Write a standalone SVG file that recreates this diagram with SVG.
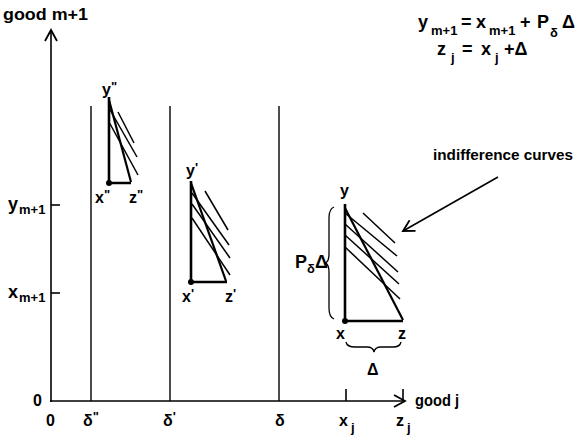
<svg xmlns="http://www.w3.org/2000/svg" width="576" height="435" viewBox="0 0 576 435">
<defs>
<style>
text{font-family:"Liberation Sans",Arial,sans-serif;font-weight:bold;fill:#000;font-size:16px}
.sub{font-size:13px}
.big{font-size:18px}
.ax{stroke:#000;stroke-width:1.6;fill:none}
.vl{stroke:#000;stroke-width:1.4;fill:none}
.tri{stroke:#000;stroke-width:2.6;fill:none;stroke-linejoin:miter}
.hyp{stroke:#000;stroke-width:2.2;fill:none}
.ic{stroke:#000;stroke-width:1.5;fill:none}
.br{stroke:#000;stroke-width:1.3;fill:none}
</style>
<marker id="ah" markerWidth="14" markerHeight="14" refX="12" refY="7" orient="auto" markerUnits="userSpaceOnUse">
<path d="M1,1 L12,7 L1,13" fill="none" stroke="#000" stroke-width="1.8"/>
</marker>
</defs>

<g id="connectors">
<line id="y-axis" class="ax" x1="51" y1="402" x2="51" y2="30" marker-end="url(#ah)"/>
<line id="x-axis" class="ax" x1="50" y1="401" x2="405" y2="401" marker-end="url(#ah)"/>
<line class="vl" x1="91" y1="106" x2="91" y2="401"/>
<line class="vl" x1="170" y1="106" x2="170" y2="401"/>
<line class="vl" x1="279" y1="106" x2="279" y2="401"/>
<line class="ax" x1="51" y1="205" x2="60" y2="205"/>
<line class="ax" x1="51" y1="293" x2="60" y2="293"/>
<line class="ax" x1="346" y1="389" x2="346" y2="401"/>
<line class="ax" x1="403" y1="389" x2="403" y2="401"/>
<line id="ic-arrow" class="ax" x1="498" y1="177" x2="403" y2="231" marker-end="url(#ah)"/>
</g>

<g id="axis-labels">
<text x="3" y="20" textLength="85" lengthAdjust="spacingAndGlyphs">good  m+1</text>
<text x="415" y="406" textLength="44" lengthAdjust="spacingAndGlyphs">good  j</text>
<text x="33" y="406">0</text>
<text x="46" y="426">0</text>
<text x="83" y="426">δ<tspan class="sub" dy="-5">"</tspan></text>
<text x="163" y="426">δ<tspan class="sub" dy="-5">'</tspan></text>
<text x="275" y="426">δ</text>
<text x="339" y="426">x<tspan class="sub" dx="3" dy="6">j</tspan></text>
<text x="396" y="426">z<tspan class="sub" dx="3" dy="6">j</tspan></text>
<text x="8" y="210" class="big">y<tspan class="sub" dx="1" dy="4">m+1</tspan></text>
<text x="8" y="298" class="big">x<tspan class="sub" dx="1" dy="4">m+1</tspan></text>
</g>

<g id="equations">
<text x="418" y="28" class="big">y</text>
<text x="431" y="35" class="sub">m+1</text>
<text x="461" y="28" class="big">=</text>
<text x="476" y="28" class="big">x</text>
<text x="489" y="35" class="sub">m+1</text>
<text x="520" y="28" class="big">+</text>
<text x="537" y="28" class="big">P</text>
<text x="550" y="37" class="sub">δ</text>
<text x="562" y="28" class="big">Δ</text>
<text x="437" y="55" class="big">z</text>
<text x="451" y="62" class="sub">j</text>
<text x="462" y="55" class="big">=</text>
<text x="481" y="55" class="big">x</text>
<text x="495" y="62" class="sub">j</text>
<text x="504" y="55" class="big">+Δ</text>
</g>

<g id="bundle-dd">
<path class="tri" d="M109,97 L109,183 L131,183"/>
<line class="hyp" x1="109" y1="100" x2="131" y2="182"/>
<line class="ic" x1="118" y1="112" x2="134" y2="143"/>
<line class="ic" x1="109" y1="108" x2="137" y2="157"/>
<line class="ic" x1="109" y1="122" x2="138" y2="175"/>
<circle cx="109" cy="183" r="3"/>
<text x="102" y="95">y<tspan class="sub" dy="-4">"</tspan></text>
<text x="95" y="203">x<tspan class="sub" dy="-4">"</tspan></text>
<text x="129" y="203">z<tspan class="sub" dy="-4">"</tspan></text>
</g>

<g id="bundle-d1">
<path class="tri" d="M191,181 L191,282 L227,282"/>
<line class="hyp" x1="191" y1="183" x2="226" y2="281"/>
<line class="ic" x1="205" y1="191" x2="228" y2="230"/>
<line class="ic" x1="192" y1="193" x2="229" y2="245"/>
<line class="ic" x1="192" y1="204" x2="230" y2="258"/>
<line class="ic" x1="192" y1="218" x2="230" y2="275"/>
<circle cx="191" cy="282" r="3"/>
<text x="186" y="176">y<tspan class="sub" dy="-4">'</tspan></text>
<text x="182" y="302">x<tspan class="sub" dy="-4">'</tspan></text>
<text x="225" y="302">z<tspan class="sub" dy="-4">'</tspan></text>
</g>

<g id="bundle-d">
<path class="tri" d="M345,204 L345,321 L403,321"/>
<line class="hyp" x1="345" y1="208" x2="403" y2="320"/>
<line class="ic" x1="363" y1="213" x2="395" y2="243"/>
<line class="ic" x1="345" y1="213" x2="397" y2="256"/>
<line class="ic" x1="345" y1="224" x2="398" y2="272"/>
<line class="ic" x1="345" y1="235" x2="399" y2="284"/>
<line class="ic" x1="345" y1="247" x2="400" y2="299"/>
<circle cx="345" cy="321" r="3"/>
<text x="340" y="196">y</text>
<text x="336" y="339">x</text>
<text x="398" y="339">z</text>
<path class="br" d="M334,207 Q329,209 329,218 L329,254 Q329,262 325,263 Q329,264 329,272 L329,308 Q329,317 334,319"/>
<text x="295" y="268" class="big">P<tspan class="sub" dy="5">δ</tspan><tspan dy="-5">Δ</tspan></text>
<path class="br" d="M346,342 Q347,347 355,347 L367,347 Q373,347 374,352 Q375,347 381,347 L393,347 Q400,347 401,342"/>
<text x="367" y="375">Δ</text>
</g>

<g id="label-ic">
<text x="433" y="160" style="font-size:15px" textLength="140" lengthAdjust="spacingAndGlyphs">indifference curves</text>
</g>
</svg>
